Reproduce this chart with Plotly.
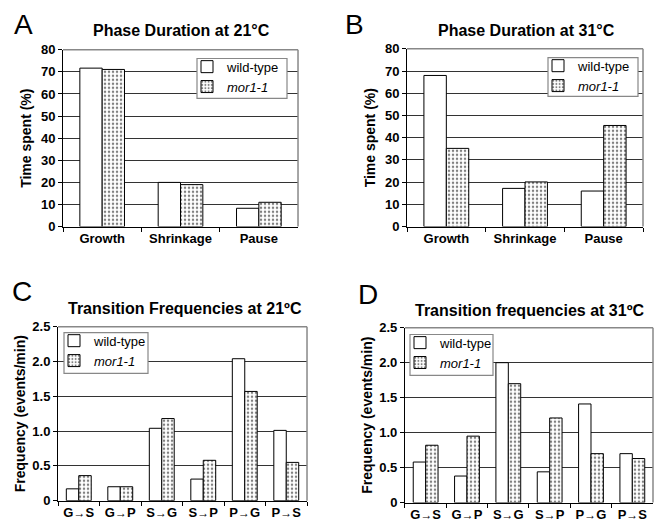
import plotly.graph_objects as go

# ---------------- data ----------------
phase_categories = ["Growth", "Shrinkage", "Pause"]
phase21_wt = [71.7, 20.0, 8.3]
phase21_mor = [71.1, 19.0, 11.0]
phase31_wt = [68.0, 17.2, 16.0]
phase31_mor = [35.2, 20.1, 45.5]

transition_categories = ["G→S", "G→P", "S→G", "S→P", "P→G", "P→S"]
trans21_wt = [0.17, 0.20, 1.04, 0.31, 2.04, 1.01]
trans21_mor = [0.36, 0.20, 1.18, 0.58, 1.57, 0.55]
trans31_wt = [0.58, 0.38, 2.00, 0.44, 1.41, 0.70]
trans31_mor = [0.82, 0.95, 1.70, 1.21, 0.70, 0.63]

phase_tickvals = [0, 10, 20, 30, 40, 50, 60, 70, 80]
freq_tickvals = [0, 0.5, 1.0, 1.5, 2.0, 2.5]
freq_ticktext = ["0", "0.5", "1.0", "1.5", "2.0", "2.5"]

series_names = ["wild-type", "<i>mor1-1</i>"]
panel_titles = ["Phase Duration at 21°C", "Phase Duration at 31°C",
                "Transition Frequencies at 21ºC", "Transition frequencies at 31ºC"]
panel_letters = ["A", "B", "C", "D"]

FONT = "Liberation Sans, Arial, sans-serif"
W, H = 657, 531

# legend boxes in pixels (left, top, right, bottom)
panels = [
    dict(cats=phase_categories, wt=phase21_wt, mor=phase21_mor, ax="", w=0.285,
         xd=[0.0959, 0.4536], yd=[0.5744, 0.9171], box=(197, 53, 287, 94),
         kind="phase", standoff=6),
    dict(cats=phase_categories, wt=phase31_wt, mor=phase31_mor, ax="2", w=0.285,
         xd=[0.6195, 0.9787], yd=[0.5744, 0.9190], box=(548, 52, 638, 92),
         kind="phase", standoff=6),
    dict(cats=transition_categories, wt=trans21_wt, mor=trans21_mor, ax="3", w=0.30,
         xd=[0.0883, 0.4673], yd=[0.0433, 0.3804], box=(64, 335, 148, 377),
         kind="freq", standoff=3),
    dict(cats=transition_categories, wt=trans31_wt, mor=trans31_mor, ax="4", w=0.30,
         xd=[0.6164, 0.9939], yd=[0.0395, 0.3785], box=(410, 337, 493, 379),
         kind="freq", standoff=3),
]

fig = go.Figure()
layout = dict(
    width=W, height=H,
    margin=dict(l=0, r=0, t=0, b=0),
    paper_bgcolor="white", plot_bgcolor="white",
    font=dict(family=FONT, color="black"),
    barmode="overlay",
    showlegend=True,
)
shapes = []
annotations = []


def tick_label(c):
    return c.replace("→", "<span style='font-size:12px'>→</span>")


for i, p in enumerate(panels):
    ax = p["ax"]
    xa, ya = "x" + ax, "y" + ax
    legname = "legend" if i == 0 else "legend%d" % (i + 1)
    w = p["w"]
    fig.add_trace(go.Bar(
        x=p["cats"], y=p["wt"], xaxis=xa, yaxis=ya, name=series_names[0],
        width=w, offset=-w,
        marker=dict(color="white", line=dict(color="black", width=1)),
        legend=legname, hoverinfo="x+y",
    ))
    fig.add_trace(go.Bar(
        x=p["cats"], y=p["mor"], xaxis=xa, yaxis=ya, name=series_names[1],
        width=w, offset=0,
        marker=dict(color="white", line=dict(color="black", width=1),
                    pattern=dict(shape=".", fgcolor="black", bgcolor="white",
                                 size=4, solidity=0.3)),
        legend=legname, hoverinfo="x+y",
    ))

    xkey = "xaxis" + ax
    ykey = "yaxis" + ax
    layout[xkey] = dict(
        domain=p["xd"], anchor=ya, type="category",
        categoryorder="array", categoryarray=p["cats"],
        tickmode="array", tickvals=p["cats"], ticktext=[tick_label(c) for c in p["cats"]],
        showline=True, linecolor="black", linewidth=1,
        ticks="outside", ticklen=4, tickcolor="black", tickson="boundaries",
        showgrid=False, zeroline=False,
        tickfont=dict(family=FONT, size=13, weight="bold", color="black"),
        fixedrange=True,
    )
    title_font = dict(family=FONT, size=14, weight="bold", color="black")
    if p["kind"] == "phase":
        yt = dict(range=[0, 80], tickvals=phase_tickvals,
                  title=dict(text="Time spent (%)", standoff=p["standoff"], font=title_font))
    else:
        yt = dict(range=[0, 2.5], tickvals=freq_tickvals, ticktext=freq_ticktext,
                  title=dict(text="Frequency (events/min)", standoff=p["standoff"], font=title_font))
    layout[ykey] = dict(
        domain=p["yd"], anchor=xa,
        showline=True, linecolor="black", linewidth=1,
        ticks="outside", ticklen=4, tickcolor="black",
        showgrid=True, gridcolor="#333333", gridwidth=1, zeroline=False,
        tickfont=dict(family=FONT, size=13, weight="bold", color="black"),
        fixedrange=True,
        **yt,
    )
    bl, bt, br, bb = p["box"]
    layout[legname] = dict(
        x=(bl - 10) / W, y=1 - (bt - 7) / H, xanchor="left", yanchor="top",
        xref="paper", yref="paper",
        bgcolor="rgba(0,0,0,0)", borderwidth=0,
        font=dict(family=FONT, size=13, color="black"),
        itemwidth=30, tracegroupgap=0,
    )
    # legend frame drawn as a shape
    shapes.append(dict(type="rect", xref="paper", yref="paper",
                       x0=bl / W, x1=br / W, y0=1 - bb / H, y1=1 - bt / H,
                       fillcolor="white", line=dict(color="#888888", width=1.2),
                       layer="above"))
    # gray frame on top and right
    shapes.append(dict(type="line", xref=xa + " domain", yref=ya + " domain",
                       x0=0, x1=1, y0=1, y1=1, line=dict(color="#888888", width=1.5)))
    shapes.append(dict(type="line", xref=xa + " domain", yref=ya + " domain",
                       x0=1, x1=1, y0=0, y1=1, line=dict(color="#888888", width=1.5)))

# titles
title_pos = [(181, 24), (526, 24), (185, 310), (529, 312)]
for t, (px, py) in zip(panel_titles, title_pos):
    annotations.append(dict(text="<b>%s</b>" % t, x=px / W, y=1 - py / H,
                            xref="paper", yref="paper", xanchor="center", yanchor="middle",
                            showarrow=False, font=dict(family=FONT, size=16, color="black")))
# panel letters
letter_pos = [(23, 18), (354, 18), (22, 293), (368, 296)]
for t, (px, py) in zip(panel_letters, letter_pos):
    annotations.append(dict(text=t, x=px / W, y=1 - py / H,
                            xref="paper", yref="paper", xanchor="center", yanchor="middle",
                            showarrow=False, font=dict(family=FONT, size=28, color="black")))

layout["shapes"] = shapes
layout["annotations"] = annotations
fig.update_layout(**layout)
fig.write_html("out.html")
